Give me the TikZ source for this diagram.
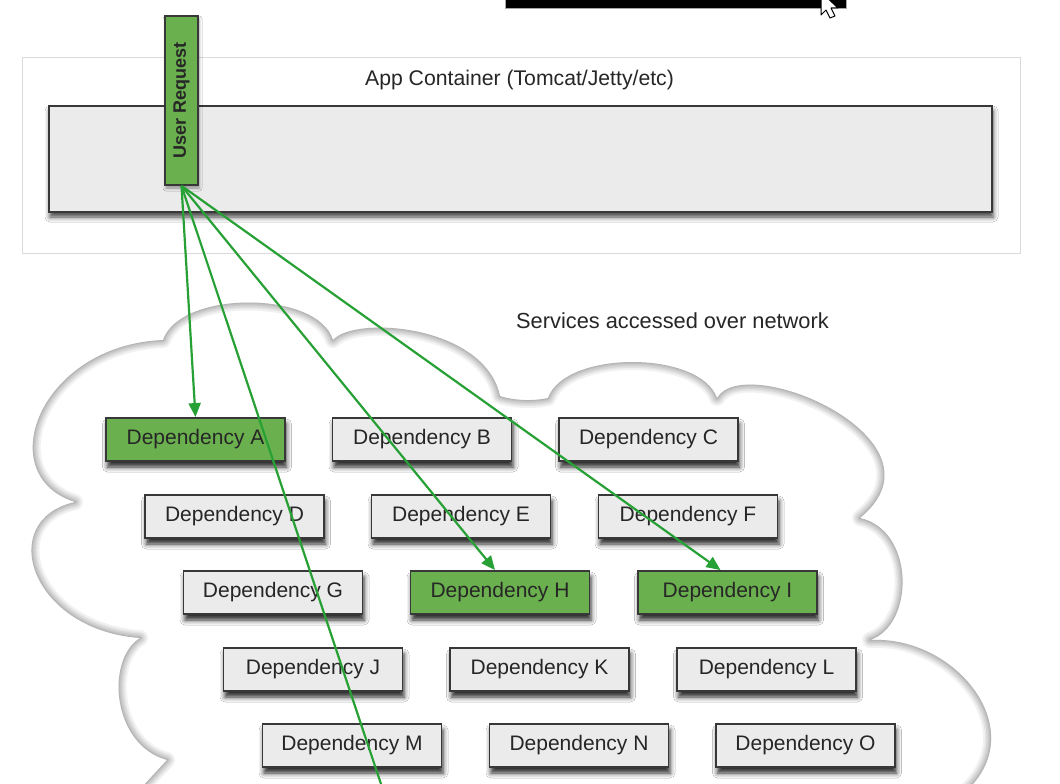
\documentclass[tikz,border=0pt]{standalone}
\usepackage{fontspec}
\setmainfont{Liberation Sans}
\usetikzlibrary{shadows.blur,arrows.meta}
\definecolor{boxgray}{HTML}{EBEBEB}
\definecolor{boxline}{HTML}{383838}
\definecolor{depgreen}{HTML}{6BB04F}
\definecolor{linegreen}{HTML}{27A135}
\definecolor{txt}{HTML}{262626}
\definecolor{framegray}{HTML}{DADADA}
\newcommand\cloudshape{(163,340) .. controls (180,290) and (318,290) .. (333,340)
 .. controls (355,315) and (485,325) .. (500,396)
 .. controls (515,401) and (535,401) .. (548,398)
 .. controls (565,350) and (700,350) .. (717,398)
 .. controls (745,350) and (955,440) .. (860,518)
 .. controls (915,530) and (915,625) .. (870,640)
 .. controls (960,635) and (1040,740) .. (955,800)
 -- (130,800) -- (167,760)
 .. controls (112,745) and (105,660) .. (140,638)
 .. controls (30,630) and (-5,520) .. (75,502)
 .. controls (-10,475) and (40,345) .. (163,340) -- cycle}
\begin{document}
\begin{tikzpicture}[x=1pt,y=-1pt,
  dep/.style={rectangle, draw=boxline, line width=1.9pt, fill=boxgray,
    minimum width=179pt, minimum height=43pt, inner sep=0pt, text=txt,
    font=\fontsize{21}{24}\selectfont,
    blur shadow={shadow xshift=1.5pt, shadow yshift=-6pt, shadow blur radius=5pt, shadow opacity=85}},
  hot/.style={dep, fill=depgreen, text=black!85},
  greenline/.style={draw=linegreen, line width=2.2pt},
  arrowed/.style={-{Triangle[length=14pt,width=12pt]}},
  label/.style={text=txt, font=\fontsize{21.2}{24}\selectfont, inner sep=0pt}
]
\useasboundingbox (0,0) rectangle (1060,784);
\clip (0,0) rectangle (1060,784);
\fill[white] (0,0) rectangle (1060,784);

% top bar and cursor
\draw[fill=black, draw=gray!70, line width=0.8pt] (505,-3) rectangle (846,8);
\draw[fill=white, draw=black, line width=1pt, line join=round]
  (821,-8) -- (821,15) -- (826,10) -- (830,18) -- (835,16) -- (831,8) -- (838,8) -- cycle;

% app container
\node[draw=framegray, line width=1pt, minimum width=998pt, minimum height=195pt, inner sep=0pt] (app) at (521,155.5) {};
\node[label] (apptitle) at (519.5,80) {App Container (Tomcat/Jetty/etc)};
\node[draw=boxline, line width=1.9pt, fill=boxgray, minimum width=943pt, minimum height=106pt, inner sep=0pt,
  blur shadow={shadow xshift=1pt, shadow yshift=-5pt, shadow blur radius=5pt, shadow opacity=75}] (ctr) at (520.5,159) {};

% cloud
\fill[white] \cloudshape;
\begin{scope}
  \clip \cloudshape;
  \foreach \w in {16,12,9,6,3.5,1.5}
    \draw[black, opacity=0.055, line width=\w pt, line join=round] \cloudshape;
\end{scope}
\node[label, font=\fontsize{21.8}{24}\selectfont] (services) at (672.5,321) {Services accessed over network};

% dependencies
\node[hot] (A) at (195.5,439.5) {Dependency A};
\node[dep] (B) at (422,439.5) {Dependency B};
\node[dep] (C) at (648.5,439.5) {Dependency C};
\node[dep] (D) at (234.5,516.5) {Dependency D};
\node[dep] (E) at (461,516.5) {Dependency E};
\node[dep] (F) at (688,516.5) {Dependency F};
\node[dep] (G) at (273,592.5) {Dependency G};
\node[hot] (H) at (500,592.5) {Dependency H};
\node[hot] (I) at (727.5,592.5) {Dependency I};
\node[dep] (J) at (313,669.5) {Dependency J};
\node[dep] (K) at (539.5,669.5) {Dependency K};
\node[dep] (L) at (766.5,669.5) {Dependency L};
\node[dep] (M) at (352,745.5) {Dependency M};
\node[dep] (N) at (579,745.5) {Dependency N};
\node[dep] (O) at (805.5,745.5) {Dependency O};

% user request
\node[draw=boxline, line width=1.6pt, fill=depgreen, minimum width=33pt, minimum height=169pt, inner sep=0pt,
  blur shadow={shadow xshift=1pt, shadow yshift=-3pt, shadow blur radius=3pt, shadow opacity=40}] (ur) at (181.5,100.5) {};
\node[rotate=90, text=black!85, font=\bfseries\fontsize{18}{20}\selectfont, inner sep=0pt] (urtext) at (ur.center) {User Request};

% connectors
\coordinate (exit) at (383,790);
\draw[greenline] (ur.south) -- (exit);
\draw[greenline, arrowed] (ur.south) -- (A.north);
\draw[greenline, arrowed] (ur.south) -- ([xshift=-5pt]H.north);
\draw[greenline, arrowed] (ur.south) -- ([xshift=-7pt]I.north);
\end{tikzpicture}
\end{document}
